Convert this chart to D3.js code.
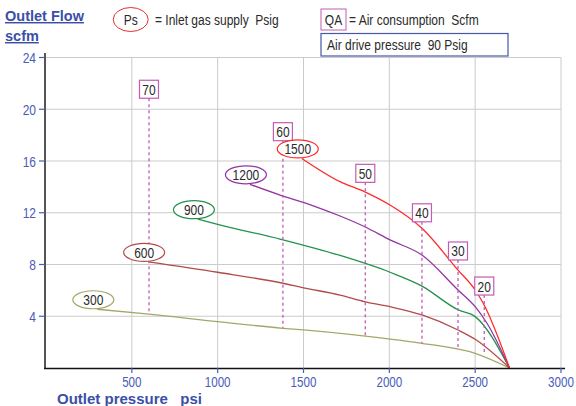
<!DOCTYPE html>
<html><head><meta charset="utf-8">
<script src="https://cdn.jsdelivr.net/npm/d3@7"></script>
<style>
html,body{margin:0;padding:0;background:#fff;}
svg{display:block;font-family:"Liberation Sans",Arial,sans-serif;}
text{white-space:pre;}
</style></head>
<body>
<svg id="c" width="576" height="406"></svg>
<script>
// ---- data ----
const supplyLabels = ["300", "600", "900", "1200", "1500"];
const supplyColors = ["#a6a66a", "#b24a4a", "#22924c", "#9434a4", "#ff2a2a"];
const psi300  = [299, 600, 1000, 1380, 1500, 1770, 1860, 2190, 2500, 2700];
const flow300 = [4.54, 4.17, 3.58, 3.07, 2.94, 2.6, 2.47, 1.91, 1.13, 0];
const psi600  = [595, 1000, 1380, 1500, 1713, 1860, 2004, 2190, 2400, 2500, 2700];
const flow600 = [8.2, 7.4, 6.55, 6.2, 5.64, 5.12, 4.74, 4.1, 2.94, 2.22, 0];
const psi900  = [885, 1000, 1363, 1713, 2004, 2190, 2400, 2500, 2700];
const flow900 = [11.5, 11.1, 9.97, 8.7, 7.4, 6.33, 4.5, 3.97, 0];
const psi1200  = [1188, 1363, 1557, 1713, 1860, 2004, 2190, 2400, 2500, 2568, 2700];
const flow1200 = [14.2, 13.37, 12.54, 11.75, 10.9, 9.9, 8.73, 6.03, 4.74, 3.48, 0];
const psi1500  = [1490, 1713, 1860, 2004, 2190, 2400, 2500, 2547, 2700];
const flow1500 = [16.2, 14.4, 13.6, 12.6, 10.8, 7.57, 6.03, 5.0, 0];

const qaLabels = ["70", "60", "50", "40", "30", "20"];
const qaPsi    = [600, 1380, 1860, 2190, 2400, 2553];
const qaTop    = [20.85, 17.57, 14.35, 11.3, 8.35, 5.64];
const qaBottom = [4.17, 3.07, 2.47, 1.91, 1.52, 1.0];

const xTicks = [500, 1000, 1500, 2000, 2500, 3000];
const yTicks = [4, 8, 12, 16, 20, 24];

const psiSeries  = [psi300, psi600, psi900, psi1200, psi1500];
const flowSeries = [flow300, flow600, flow900, flow1200, flow1500];

// ---- chart ----
const svg = d3.select("#c");
const x = d3.scaleLinear().domain([0, 3000]).range([46, 561]);
const y = d3.scaleLinear().domain([0, 24]).range([368, 57.5]);
const SQ = 0.8;
const FS = 15;
const blue = "#4a5cb8", titleBlue = "#3a4fa8", qaColor = "#c25cb4", txt = "#2a2a2a";

function stext(g, s, px, py, opts = {}) {
  return g.append("text")
    .attr("transform", `translate(${px},${py}) scale(${opts.sq ?? SQ},1)`)
    .attr("text-anchor", opts.anchor || "start")
    .attr("font-size", opts.size || FS)
    .attr("font-weight", opts.weight || "normal")
    .attr("fill", opts.fill || txt)
    .text(s);
}

// gridlines
const grid = svg.append("g");
grid.selectAll("line.v").data(xTicks).join("line")
  .attr("x1", d => x(d)).attr("x2", d => x(d))
  .attr("y1", y(0)).attr("y2", y(24))
  .attr("stroke", "#cbcbcb").attr("stroke-width", 1);
grid.selectAll("line.h").data(yTicks).join("line")
  .attr("x1", x(0)).attr("x2", x(3000))
  .attr("y1", d => y(d)).attr("y2", d => y(d))
  .attr("stroke", "#cbcbcb").attr("stroke-width", 1);

// curves
const line = d3.line().curve(d3.curveMonotoneX).x(d => x(d[0])).y(d => y(d[1]));
psiSeries.forEach((ps, i) => {
  const pts = ps.map((p, j) => [p, flowSeries[i][j]]);
  svg.append("path").attr("d", line(pts))
    .attr("fill", "none").attr("stroke", supplyColors[i]).attr("stroke-width", 1.3);
});

// QA dashed lines and boxes
qaLabels.forEach((lab, i) => {
  const cx = x(qaPsi[i]);
  svg.append("line")
    .attr("x1", cx).attr("x2", cx)
    .attr("y1", y(qaTop[i])).attr("y2", y(qaBottom[i]))
    .attr("stroke", qaColor).attr("stroke-width", 1.3)
    .attr("stroke-dasharray", "3,3");
});
qaLabels.forEach((lab, i) => {
  const cx = x(qaPsi[i]);
  const bt = y(qaTop[i]);
  svg.append("rect").attr("x", cx - 9.5).attr("y", bt - 18)
    .attr("width", 19).attr("height", 18)
    .attr("fill", "#fff").attr("stroke", qaColor).attr("stroke-width", 1.2);
  stext(svg, lab, cx, bt - 3.5, { anchor: "middle" });
});

// supply ellipse labels
psiSeries.forEach((ps, i) => {
  const sx = x(ps[0]) - 4, sy = y(flowSeries[i][0]) - 9.5;
  svg.append("ellipse").attr("cx", sx).attr("cy", sy)
    .attr("rx", 20.5).attr("ry", 9)
    .attr("fill", "#fff").attr("stroke", supplyColors[i]).attr("stroke-width", 1.2);
  stext(svg, supplyLabels[i], sx, sy + 5.5, { anchor: "middle" });
});

// axes
svg.append("line").attr("x1", 45).attr("x2", 45).attr("y1", 53).attr("y2", y(0))
  .attr("stroke", "#555").attr("stroke-width", 2);
svg.append("line").attr("x1", 44).attr("x2", 565).attr("y1", y(0) + 0.5).attr("y2", y(0) + 0.5)
  .attr("stroke", "#111").attr("stroke-width", 1.5);

const ax = svg.append("g");
ax.selectAll("line.xt").data(xTicks).join("line")
  .attr("x1", d => x(d)).attr("x2", d => x(d))
  .attr("y1", y(0)).attr("y2", y(0) + 5)
  .attr("stroke", blue).attr("stroke-width", 1.2);
xTicks.forEach(t => stext(ax, String(t), x(t), 386.5, { anchor: "middle", fill: blue, size: 14.5 }));
ax.selectAll("line.yt").data(yTicks).join("line")
  .attr("x1", 39).attr("x2", 45)
  .attr("y1", d => y(d)).attr("y2", d => y(d))
  .attr("stroke", blue).attr("stroke-width", 1.2);
yTicks.forEach(t => stext(ax, String(t), 36, y(t) + 5.5, { anchor: "end", fill: blue }));

// titles
svg.append("text").attr("x", 5).attr("y", 21).attr("font-size", 14.5).attr("font-weight", "bold")
  .attr("fill", titleBlue).attr("text-decoration", "underline").text("Outlet Flow");
svg.append("text").attr("x", 5).attr("y", 41).attr("font-size", 14.5).attr("font-weight", "bold")
  .attr("fill", titleBlue).attr("text-decoration", "underline").text("scfm");
svg.append("text").attr("x", 57).attr("y", 403.5).attr("font-size", 15).attr("font-weight", "bold")
  .attr("fill", titleBlue).text("Outlet pressure   psi");

// legend
svg.append("ellipse").attr("cx", 130.7).attr("cy", 19.5).attr("rx", 17.5).attr("ry", 12)
  .attr("fill", "#fff").attr("stroke", "#e43030").attr("stroke-width", 1);
stext(svg, "Ps", 130.7, 25, { anchor: "middle" });
stext(svg, "= Inlet gas supply  Psig", 155, 25);

svg.append("rect").attr("x", 321).attr("y", 9).attr("width", 25).attr("height", 21)
  .attr("fill", "#fff").attr("stroke", qaColor).attr("stroke-width", 1);
stext(svg, "QA", 333.5, 25, { anchor: "middle" });
stext(svg, "= Air consumption  Scfm", 349, 25);

svg.append("rect").attr("x", 321).attr("y", 33.5).attr("width", 187).attr("height", 22.5)
  .attr("fill", "#fff").attr("stroke", "#4656a8").attr("stroke-width", 1.2);
stext(svg, "Air drive pressure  90 Psig", 327, 49.5);
</script>
</body></html>
